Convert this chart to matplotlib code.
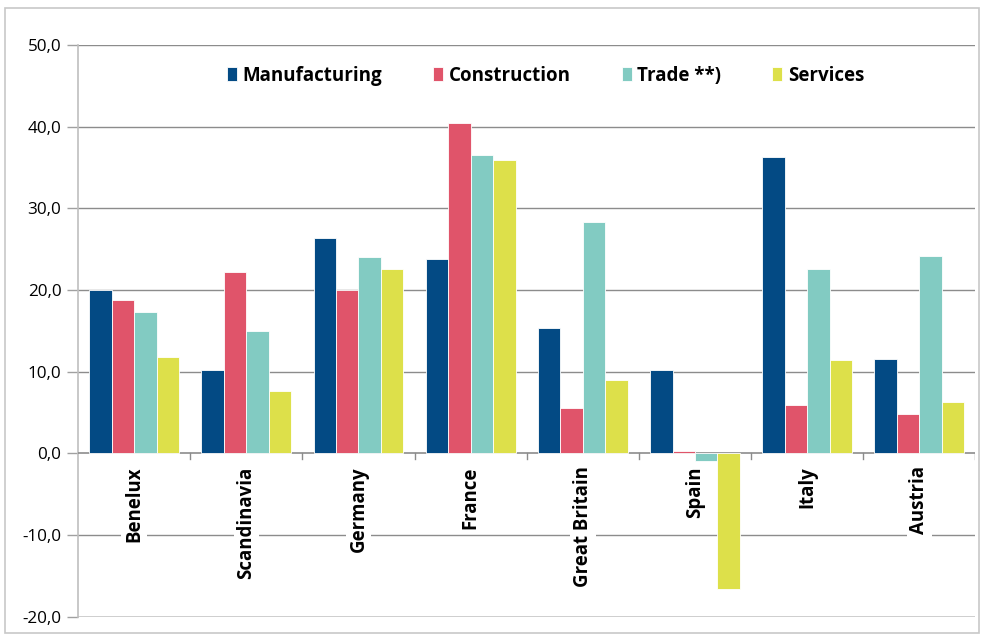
import matplotlib
matplotlib.use("Agg")
import matplotlib.pyplot as plt
import numpy as np
from matplotlib.patches import Rectangle

categories = ["Benelux", "Scandinavia", "Germany", "France", "Great Britain", "Spain", "Italy", "Austria"]
series_names = ["Manufacturing", "Construction", "Trade **)", "Services"]
manufacturing = [20.0, 10.2, 26.4, 23.8, 15.4, 10.2, 36.3, 11.6]
construction = [18.8, 22.2, 20.0, 40.4, 5.6, 0.3, 5.9, 4.8]
trade = [17.3, 15.0, 24.1, 36.5, 28.3, -0.9, 22.6, 24.2]
services = [11.8, 7.6, 22.6, 35.9, 9.0, -16.6, 11.4, 6.3]
yticks = [-20, -10, 0, 10, 20, 30, 40, 50]
colors = ["#034a84", "#e0546a", "#82cbc2", "#dde04a"]

plt.rcParams['font.family'] = ['Open Sans', 'DejaVu Sans']

fig = plt.figure(figsize=(9.84, 6.36), dpi=100)
fig.patches.append(Rectangle((0.005, 0.004), 0.99, 0.983, transform=fig.transFigure,
                             fill=False, edgecolor="#c8c8c8", linewidth=1.2))
ax = fig.add_axes([0.0793, 0.0303, 0.912, 0.899])

data = [manufacturing, construction, trade, services]
x = np.arange(len(categories))
w = 0.2
for i, (vals, c, name) in enumerate(zip(data, colors, series_names)):
    ax.bar(x - 0.3 + i * w, vals, width=w, color=c, edgecolor="white", linewidth=0.6,
           label=name, zorder=5)

ax.set_xlim(-0.5, len(categories) - 0.5)
ax.set_ylim(-20, 50)
ax.set_yticks(yticks)
ax.set_yticklabels([f"{v:.1f}".replace(".", ",") for v in yticks], fontsize=12.3)
for v in yticks:
    if v == -20:
        ax.axhline(v, color="#c0c0c0", linewidth=1.8, zorder=1)
    elif v != 0:
        ax.axhline(v, color="#8c8c8c", linewidth=1.0, zorder=1)
ax.axhline(0, color="#8c8c8c", linewidth=1.2, zorder=4)
for b in np.arange(0.5, len(categories) - 0.5, 1.0):
    ax.plot([b, b], [0, -0.7], color="#8c8c8c", linewidth=1.0, zorder=4, clip_on=False)
ax.plot([len(categories) - 0.5] * 2, [0, -0.7], color="#8c8c8c", linewidth=1.0, zorder=4)

ax.set_xticks([])
for s in ["top", "right", "bottom"]:
    ax.spines[s].set_visible(False)
ax.spines["left"].set_color("#bfbfbf")
ax.spines["left"].set_linewidth(1.2)
ax.tick_params(axis="y", length=8, color="#a0a0a0", width=1.0, pad=4)

for xi, cat in zip(x, categories):
    ax.text(xi, -1.6, cat, rotation=90, ha="center", va="top", fontsize=13.4,
            fontweight="bold", zorder=6,
            bbox=dict(facecolor="white", edgecolor="none", pad=2))

leg = ax.legend(loc="center", bbox_to_anchor=(0.521, 0.946), ncol=4, frameon=False,
                prop=dict(weight="bold", size=13.5), handlelength=0.55, handleheight=0.75,
                handletextpad=0.3, columnspacing=2.7)

fig.savefig("out.png", dpi=100)
